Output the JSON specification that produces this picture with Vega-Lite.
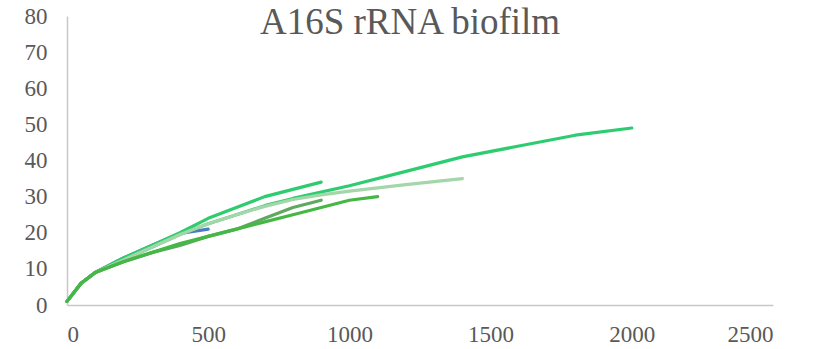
{
  "$schema": "https://vega.github.io/schema/vega-lite/v6.json",
  "width": 706,
  "height": 289,
  "autosize": {"type": "none"},
  "padding": {"left": 67, "top": 16, "right": 52, "bottom": 44},
  "background": "white",
  "title": {
    "text": "A16S rRNA biofilm",
    "font": "Liberation Serif",
    "fontSize": 37,
    "fontWeight": "normal",
    "color": "#595959",
    "anchor": "middle",
    "baseline": "alphabetic",
    "offset": -66,
    "dx": -10
  },
  "config": {
    "view": {"stroke": null},
    "axis": {
      "labelFont": "Liberation Serif",
      "labelFontSize": 23,
      "labelColor": "#595959",
      "ticks": false,
      "grid": false,
      "domainColor": "#c8c8c8",
      "domainWidth": 1.5,
      "title": null
    }
  },
  "data": {
    "values": [
      {"s": "f", "x": 0, "y": 1}, {"s": "f", "x": 50, "y": 6}, {"s": "f", "x": 100, "y": 9}, {"s": "f", "x": 200, "y": 13}, {"s": "f", "x": 300, "y": 16.5}, {"s": "f", "x": 400, "y": 19.8}, {"s": "f", "x": 500, "y": 21},
      {"s": "a", "x": 0, "y": 1}, {"s": "a", "x": 50, "y": 6}, {"s": "a", "x": 100, "y": 9}, {"s": "a", "x": 200, "y": 12.5}, {"s": "a", "x": 300, "y": 16}, {"s": "a", "x": 400, "y": 19.5}, {"s": "a", "x": 500, "y": 22.5}, {"s": "a", "x": 600, "y": 25}, {"s": "a", "x": 700, "y": 27.5}, {"s": "a", "x": 800, "y": 29.5}, {"s": "a", "x": 1000, "y": 33}, {"s": "a", "x": 1200, "y": 37}, {"s": "a", "x": 1400, "y": 41}, {"s": "a", "x": 1600, "y": 44}, {"s": "a", "x": 1800, "y": 47}, {"s": "a", "x": 2000, "y": 49},
      {"s": "b", "x": 0, "y": 1}, {"s": "b", "x": 50, "y": 6}, {"s": "b", "x": 100, "y": 9}, {"s": "b", "x": 200, "y": 13}, {"s": "b", "x": 300, "y": 16.5}, {"s": "b", "x": 400, "y": 20}, {"s": "b", "x": 500, "y": 24}, {"s": "b", "x": 700, "y": 30}, {"s": "b", "x": 900, "y": 34},
      {"s": "e", "x": 0, "y": 1}, {"s": "e", "x": 50, "y": 6}, {"s": "e", "x": 100, "y": 9}, {"s": "e", "x": 200, "y": 12.5}, {"s": "e", "x": 300, "y": 16}, {"s": "e", "x": 400, "y": 19.5}, {"s": "e", "x": 500, "y": 22.5}, {"s": "e", "x": 600, "y": 25}, {"s": "e", "x": 700, "y": 27.3}, {"s": "e", "x": 800, "y": 29.2}, {"s": "e", "x": 900, "y": 30.5}, {"s": "e", "x": 1000, "y": 31.5}, {"s": "e", "x": 1200, "y": 33.3}, {"s": "e", "x": 1400, "y": 35},
      {"s": "c", "x": 0, "y": 1}, {"s": "c", "x": 50, "y": 6}, {"s": "c", "x": 100, "y": 9}, {"s": "c", "x": 200, "y": 12}, {"s": "c", "x": 300, "y": 14.5}, {"s": "c", "x": 400, "y": 16.5}, {"s": "c", "x": 500, "y": 19}, {"s": "c", "x": 600, "y": 21}, {"s": "c", "x": 700, "y": 24}, {"s": "c", "x": 800, "y": 27}, {"s": "c", "x": 900, "y": 29},
      {"s": "d", "x": 0, "y": 1}, {"s": "d", "x": 50, "y": 6}, {"s": "d", "x": 100, "y": 9}, {"s": "d", "x": 200, "y": 12}, {"s": "d", "x": 300, "y": 14.5}, {"s": "d", "x": 400, "y": 17}, {"s": "d", "x": 500, "y": 19}, {"s": "d", "x": 600, "y": 21}, {"s": "d", "x": 700, "y": 23}, {"s": "d", "x": 800, "y": 25}, {"s": "d", "x": 900, "y": 27}, {"s": "d", "x": 1000, "y": 29}, {"s": "d", "x": 1100, "y": 30}
    ]
  },
  "mark": {"type": "line", "strokeWidth": 3.2, "strokeCap": "round", "strokeJoin": "round"},
  "encoding": {
    "x": {"field": "x", "type": "quantitative", "scale": {"domain": [0, 2500], "nice": false}, "axis": {"values": [0, 500, 1000, 1500, 2000, 2500], "format": "d", "labelPadding": 18}},
    "y": {"field": "y", "type": "quantitative", "scale": {"domain": [0, 80], "nice": false}, "axis": {"values": [0, 10, 20, 30, 40, 50, 60, 70, 80], "labelPadding": 20}},
    "color": {"field": "s", "type": "nominal", "legend": null, "scale": {"domain": ["f", "a", "b", "e", "c", "d"], "range": ["#4a7cc4", "#2ecc71", "#2fcb6e", "#a3d6a8", "#5fa85f", "#45b745"]}}
  }
}
